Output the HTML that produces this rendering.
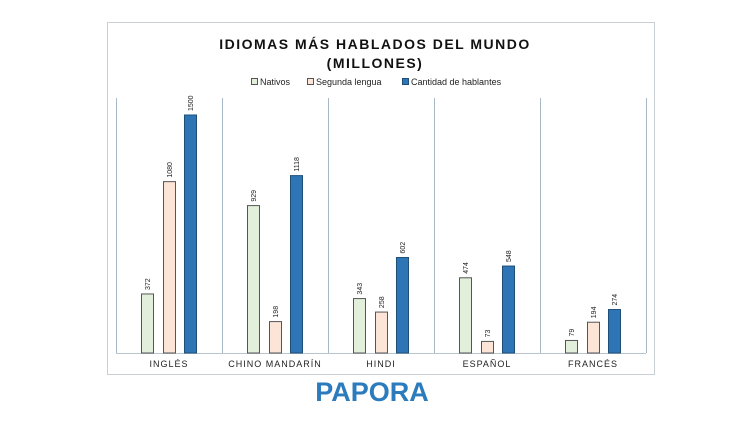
<!DOCTYPE html>
<html><head><meta charset="utf-8"><style>
html,body{margin:0;padding:0;background:#fff;width:750px;height:421px;overflow:hidden;font-family:"Liberation Sans",sans-serif}
</style></head><body>
<svg width="750" height="421" viewBox="0 0 750 421">
<rect x="107.5" y="22.5" width="547" height="352" fill="#fff" stroke="#c8d0d4"/>
<text x="375" y="49" text-anchor="middle" font-size="14" font-weight="bold" letter-spacing="1.5" fill="#111">IDIOMAS MÁS HABLADOS DEL MUNDO</text>
<text x="375" y="68" text-anchor="middle" font-size="14" font-weight="bold" letter-spacing="1.5" fill="#111">(MILLONES)</text>
<g id="legend" font-size="9" fill="#222"></g>
<g id="grid"></g><g id="bars"></g>
<text x="372" y="401" text-anchor="middle" font-size="27" font-weight="bold" fill="#2b7bbd">PAPORA</text>
</svg>
<script>
const categories=["INGLÉS","CHINO MANDARÍN","HINDI","ESPAÑOL","FRANCÉS"];
const nativos=[372,929,343,474,79];
const segunda=[1080,198,258,73,194];
const total=[1500,1118,602,548,274];
const seriesNames=["Nativos","Segunda lengua","Cantidad de hablantes"];
const NS="http://www.w3.org/2000/svg";
const x0=116,cw=106,base=353,scale=238/1500;
const y=v=>base-v*scale;
function el(t,a,p){const e=document.createElementNS(NS,t);for(const k in a)e.setAttribute(k,a[k]);p.appendChild(e);return e;}
const grid=document.getElementById('grid'),bars=document.getElementById('bars'),leg=document.getElementById('legend');
for(let i=0;i<=categories.length;i++){
 const l=el('line',{x1:x0+i*cw+.5,x2:x0+i*cw+.5,y1:98,y2:base,stroke:'#a9b8c6'},grid);
 
 
}
const bl=el('line',{x1:x0,x2:x0+5*cw,y1:base+.5,y2:base+.5,stroke:'#b8c4ce'},grid);


const series=[nativos,segunda,total];
const fills=['#e2efda','#fce4d6','#2e75b6'],strokes=['#555','#555','#1f4e79'];
const offs=[25,47,68],bw=12;
categories.forEach((c,i)=>{
 series.forEach((s,j)=>{
  const bx=x0+i*cw+offs[j];
  const r=el('rect',{x:bx+.5,y:y(s[i]),width:bw,height:base-y(s[i]),fill:fills[j],stroke:strokes[j]},bars);
  
  
  const t=el('text',{x:0,y:0,'font-size':7,fill:'#222',transform:`translate(${bx+bw/2+3},${y(s[i])-4}) rotate(-90)`},bars);
  t.textContent=s[i];
  
  
 });
 const t=el('text',{x:x0+i*cw+cw/2,y:367,'text-anchor':'middle','font-size':9,'letter-spacing':1,fill:'#222'},bars);
 t.textContent=c;
 
 
});
const lx=[251,307,402];
seriesNames.forEach((n,j)=>{
 const r=el('rect',{x:lx[j]+.5,y:78.5,width:6,height:6,fill:fills[j],stroke:strokes[j]},leg);
 
 
 const t=el('text',{x:lx[j]+9,y:85},leg);
 t.textContent=n;
 
 
});
</script>
</body></html>
